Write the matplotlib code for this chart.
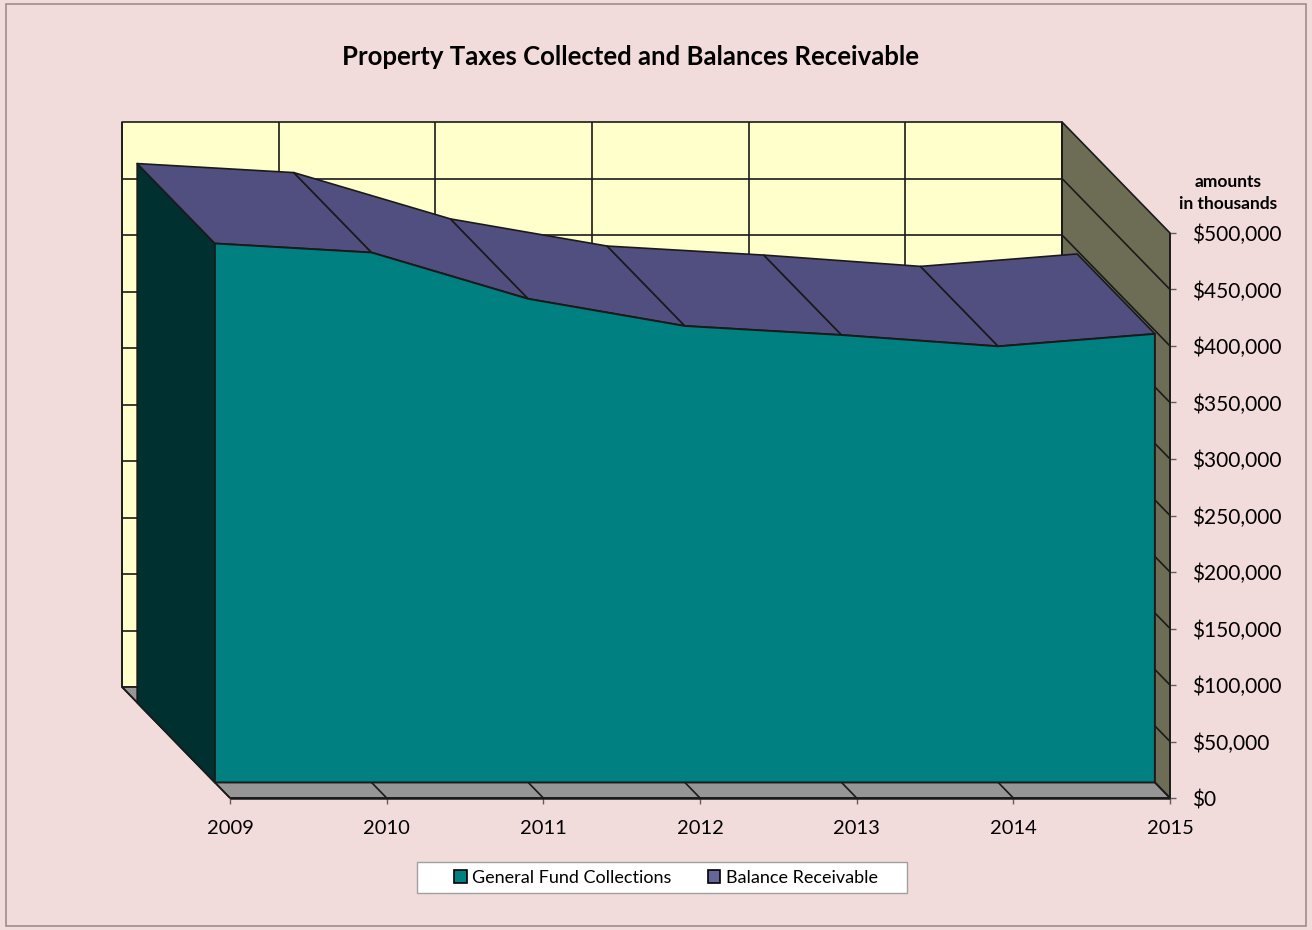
import matplotlib
matplotlib.use("Agg")
import matplotlib.pyplot as plt
from matplotlib.patches import Polygon, Patch, Rectangle
from matplotlib.ticker import FuncFormatter

plt.rcParams["font.family"] = ["Lato", "DejaVu Sans"]

years = [2009, 2010, 2011, 2012, 2013, 2014, 2015]
general_fund = [477000, 469000, 428000, 404000, 396000, 386000, 397000]
value_ticks = [0, 50000, 100000, 150000, 200000, 250000, 300000, 350000, 400000, 450000, 500000]
series_names = ["General Fund Collections", "Balance Receivable"]

TEAL = "#008080"
TEAL_SIDE = "#003030"
PURPLE = "#666699"
PURPLE_TOP = "#504f80"
WALL = "#ffffcc"
SIDE_WALL = "#6d6d55"
FLOOR = "#969696"
EDGE = "#1a1a1a"

# oblique projection: shift from the front plane (d=0) to the back wall (d=1)
DEPTH_X = -0.689
DEPTH_Y = 98200
SERIES_FRONT = 0.14
SERIES_BACK = 0.86


def proj(x, y, d):
    return (x + DEPTH_X * d, y + DEPTH_Y * d)


def add_poly(ax, pts, color, z, lw=1.2):
    ax.add_patch(Polygon(pts, closed=True, facecolor=color, edgecolor=EDGE,
                         linewidth=lw, joinstyle="round", zorder=z, clip_on=False))


def add_line(ax, p, q, z, lw=1.2, color=EDGE):
    ax.plot([p[0], q[0]], [p[1], q[1]], color=color, linewidth=lw,
            zorder=z, clip_on=False, solid_capstyle="butt")


fig = plt.figure(figsize=(13.12, 9.3), dpi=100)
fig.patch.set_facecolor("#f2dcdb")
fig.patches.append(Rectangle((6 / 1312, 4 / 930), 1300 / 1312, 922 / 930,
                             transform=fig.transFigure, fill=False,
                             edgecolor="#a08c8c", linewidth=1.2))

ax = fig.add_axes([230 / 1312, 132 / 930, 940 / 1312, 565 / 930])
ax.set_facecolor("none")
x0, x1 = years[0], years[-1]
top = value_ticks[-1]
ax.set_xlim(x0, x1)
ax.set_ylim(0, top)
for s in ax.spines.values():
    s.set_visible(False)

# walls and floor
add_poly(ax, [proj(x0, 0, 1), proj(x1, 0, 1), proj(x1, top, 1), proj(x0, top, 1)], WALL, 1)
add_poly(ax, [proj(x1, 0, 1), proj(x1, top, 1), proj(x1, top, 0), proj(x1, 0, 0)], SIDE_WALL, 1)
add_poly(ax, [proj(x0, 0, 0), proj(x1, 0, 0), proj(x1, 0, 1), proj(x0, 0, 1)], FLOOR, 1)

for v in value_ticks[1:-1]:
    add_line(ax, proj(x0, v, 1), proj(x1, v, 1), 2)
    add_line(ax, proj(x1, v, 1), proj(x1, v, 0), 2)
for yr in years:
    add_line(ax, proj(yr, 0, 1), proj(yr, top, 1), 2)
    add_line(ax, proj(yr, 0, 0), proj(yr, 0, 1), 2)

# the area block
F, B = SERIES_FRONT, SERIES_BACK
add_poly(ax, [proj(x0, 0, F), proj(x0, general_fund[0], F),
              proj(x0, general_fund[0], B), proj(x0, 0, B)], TEAL_SIDE, 3)
for i in range(len(years) - 1):
    a, b = years[i], years[i + 1]
    va, vb = general_fund[i], general_fund[i + 1]
    add_poly(ax, [proj(a, va, F), proj(b, vb, F), proj(b, vb, B), proj(a, va, B)], PURPLE_TOP, 3)
front = [proj(yr, v, F) for yr, v in zip(years, general_fund)]
front += [proj(x1, 0, F), proj(x0, 0, F)]
add_poly(ax, front, TEAL, 4, lw=1.4)

# axis edges
add_line(ax, proj(x0, 0, 0), proj(x1, 0, 0), 5, lw=1.8)
add_line(ax, proj(x1, 0, 0), proj(x1, top, 0), 5, lw=1.2)

ax.set_xticks(years)
ax.set_xticklabels([str(y) for y in years])
ax.yaxis.tick_right()
ax.set_yticks(value_ticks)
ax.yaxis.set_major_formatter(FuncFormatter(lambda v, p: f"${v:,.0f}"))
ax.tick_params(axis="x", length=4, width=1, color="#606060", pad=12, labelsize=14.5)
ax.tick_params(axis="y", length=4, width=1, color="#606060", pad=12, labelsize=15)

fig.text(1228 / 1312, (930 - 193) / 930, "amounts\nin thousands", ha="center", va="center",
         fontsize=12.5, fontweight="bold", linespacing=1.5)
fig.text(630 / 1312, (930 - 57) / 930, "Property Taxes Collected and Balances Receivable",
         ha="center", va="center", fontsize=18.5, fontweight="bold")

# legend box
fig.patches.append(Rectangle((417 / 1312, (930 - 893) / 930), 490 / 1312, 31 / 930,
                             transform=fig.transFigure, facecolor="white",
                             edgecolor="#a0a0a0", linewidth=1.0))
handles = [Patch(facecolor=TEAL, edgecolor="black", linewidth=1.2),
           Patch(facecolor=PURPLE, edgecolor="black", linewidth=1.2)]
leg = fig.legend(handles, series_names, loc="center",
                 bbox_to_anchor=(666 / 1312, (930 - 877.5) / 930), ncol=2,
                 frameon=False, fontsize=13, handlelength=0.7, handleheight=0.7,
                 handletextpad=0.3, columnspacing=2.0, borderpad=0.3)

fig.savefig("out.png", dpi=100, facecolor=fig.get_facecolor())
